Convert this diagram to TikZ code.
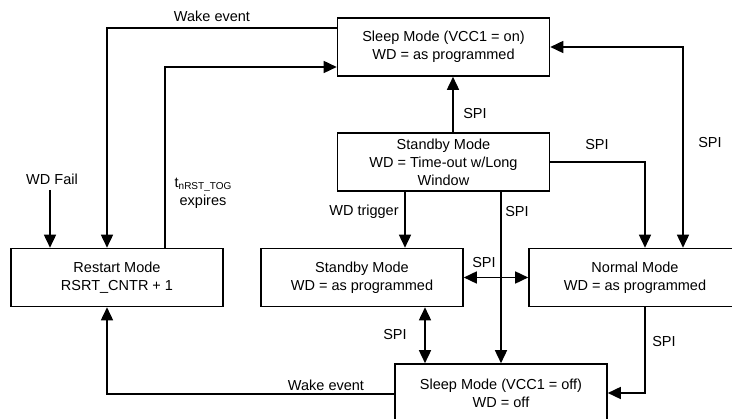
\documentclass[tikz,border=0pt]{standalone}
\usepackage{fontspec}
\setmainfont{Liberation Sans}
\usetikzlibrary{arrows.meta}
\begin{document}
\begin{tikzpicture}[x=1pt,y=-1pt,
  font=\fontsize{14.5}{18}\selectfont,
  box/.style={draw, line width=1.6pt, minimum width=212pt, minimum height=58pt, inner sep=0pt, align=center},
  conn/.style={line width=1.6pt},
  arr/.style={conn, -{Triangle[length=13pt,width=12pt]}},
  darr/.style={conn, {Triangle[length=13pt,width=12pt]}-{Triangle[length=13pt,width=12pt]}},
  lbl/.style={inner sep=0pt, align=center}]
\useasboundingbox (0,0) rectangle (732,419);
\node[box] (son) at (443.5,47) {Sleep Mode (VCC1 = on)\\WD = as programmed};
\node[box] (sbt) at (443.5,162) {Standby Mode\\WD = Time-out w/Long\\Window};
\node[box] (rst) at (117,277.5) {Restart Mode\\RSRT\_CNTR + 1};
\node[box, minimum width=202pt] (sbm) at (362,277.5) {Standby Mode\\WD = as programmed};
\node[box] (nrm) at (635,277.5) {Normal Mode\\WD = as programmed};
\node[box] (sof) at (501,393) {Sleep Mode (VCC1 = off)\\WD = off};
\coordinate (wdf) at (50,190);
% labels
\node[lbl] (l1) at (212,16) {Wake event};
\node[lbl] (l2) at (203,193) {t\raisebox{-0.35ex}{\fontsize{10}{10}\selectfont nRST\_TOG}\\expires};
\node[lbl] (l3) at (52,179) {WD Fail};
\node[lbl] (l4) at (475,114) {SPI};
\node[lbl] (l5) at (364,212) {WD trigger};
\node[lbl] (l6) at (517,212) {SPI};
\node[lbl] (l7) at (597,145) {SPI};
\node[lbl] (l8) at (710,143) {SPI};
\node[lbl] (l9) at (484,263) {SPI};
\node[lbl] (l10) at (395,335) {SPI};
\node[lbl] (l11) at (664,342) {SPI};
\node[lbl] (l12) at (326,385) {Wake event};
% connectors
\draw[arr] ([yshift=19pt]son.west) -| ([xshift=-10pt]rst.north);
\draw[arr] ([xshift=48pt]rst.north) |- ([yshift=-20pt]son.west);
\draw[arr] (wdf) -- (wdf |- rst.north);
\draw[arr] ([xshift=9.5pt]sbt.north) -- ([xshift=9.5pt]son.south);
\draw[arr] (sbt.south -| 405,0) -- (sbm.north -| 405,0);
\draw[arr] (sbt.south -| 501,0) -- (sof.north -| 501,0);
\draw[arr] (sbt.east) -| ([xshift=10pt]nrm.north);
\draw[darr] (son.east) -| ([xshift=48pt]nrm.north);
\draw[darr] (sbm.east) -- (nrm.west);
\draw[darr] (sbm.south -| 425,0) -- (sof.north -| 425,0);
\draw[arr] ([xshift=10pt]nrm.south) |- (sof.east);
\draw[arr] ([yshift=-1pt]sof.west) -| ([xshift=-10pt]rst.south);
\end{tikzpicture}
\end{document}
